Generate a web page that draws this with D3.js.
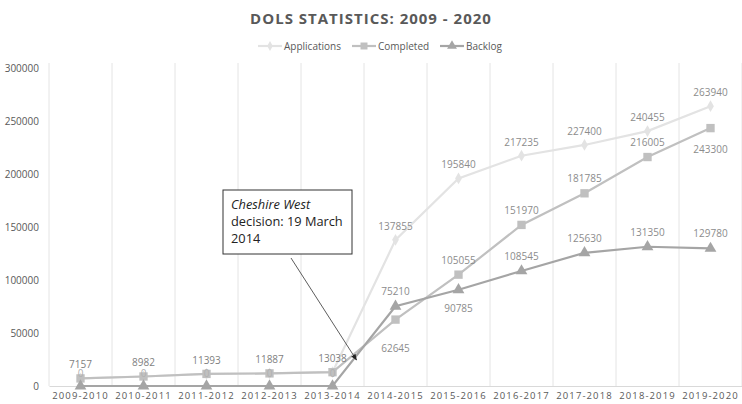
<!DOCTYPE html>
<html>
<head>
<meta charset="utf-8">
<script src="https://cdn.jsdelivr.net/npm/d3@7"></script>
<style>
  body { margin: 0; background: #fff; }
  text { font-family: "Open Sans", "Noto Sans", sans-serif; }
</style>
</head>
<body>
<div id="chart"></div>
<script>
const years = ["2009-2010", "2010-2011", "2011-2012", "2012-2013", "2013-2014", "2014-2015",
  "2015-2016", "2016-2017", "2017-2018", "2018-2019", "2019-2020"];
const applications = [7157, 8982, 11393, 11887, 13038, 137855, 195840, 217235, 227400, 240455, 263940];
const completed = [7157, 8982, 11393, 11887, 13038, 62645, 105055, 151970, 181785, 216005, 243300];
const backlog = [0, 0, 0, 0, 0, 75210, 90785, 108545, 125630, 131350, 129780];
const yTicks = [0, 50000, 100000, 150000, 200000, 250000, 300000];

// label placement: above (-1) / below (+1), null = no label
const compLabelPos = [null, null, null, null, null, 1, -1, -1, -1, -1, 1];
const backLabelPos = [-1, -1, -1, -1, -1, -1, 1, -1, -1, -1, -1];

const W = 742, H = 404;
const margin = { top: 68, right: 0, bottom: 18, left: 49 };

const svg = d3.select("#chart").append("svg")
  .attr("width", W).attr("height", H);

const x = d3.scaleBand().domain(years).range([margin.left, 742]);
const y = d3.scaleLinear().domain([0, 300000]).range([H - margin.bottom, margin.top]);
const cx = d => x(d) + x.bandwidth() / 2;

// vertical gridlines at band edges
svg.append("g").selectAll("line")
  .data(years.concat(["end"]))
  .join("line")
  .attr("x1", (d, i) => margin.left + i * x.step())
  .attr("x2", (d, i) => margin.left + i * x.step())
  .attr("y1", y(300000) - 5).attr("y2", y(0))
  .attr("stroke", "#e4e4e4").attr("stroke-width", 1);

// x axis
const xAxis = svg.append("g")
  .attr("transform", `translate(0,${y(0)})`)
  .call(d3.axisBottom(x).tickSize(0).tickPadding(6));
xAxis.select(".domain").attr("stroke", "#d9d9d9");
xAxis.selectAll("text")
  .attr("fill", "#595959").attr("font-size", 9.5).style("letter-spacing", "1.1px");

// y axis
const yAxis = svg.append("g")
  .attr("transform", `translate(${margin.left},0)`)
  .call(d3.axisLeft(y).tickValues(yTicks).tickSize(0).tickPadding(10).tickFormat(d3.format("d")));
yAxis.select(".domain").remove();
yAxis.selectAll("text").attr("fill", "#595959").attr("font-size", 10);

// title
svg.append("text")
  .attr("x", 371).attr("y", 24).attr("text-anchor", "middle")
  .attr("font-size", 15).attr("font-weight", "bold")
  .style("letter-spacing", "1px")
  .attr("fill", "#595959")
  .text("DOLS STATISTICS: 2009 - 2020");

const series = [
  { name: "Applications", values: applications, color: "#e3e3e3", symbol: d3.symbolDiamond, size: 40, width: 2.2 },
  { name: "Completed", values: completed, color: "#c0c0c0", symbol: d3.symbolSquare, size: 70, width: 2.2 },
  { name: "Backlog", values: backlog, color: "#a5a5a5", symbol: d3.symbolTriangle, size: 60, width: 2.2 }
];

const line = d3.line().x((d, i) => cx(years[i])).y(d => y(d));

series.forEach(s => {
  svg.append("path")
    .datum(s.values)
    .attr("fill", "none")
    .attr("stroke", s.color)
    .attr("stroke-width", s.width)
    .attr("d", line);
});

// markers, backlog drawn last so it sits on top
series.forEach(s => {
  svg.append("g").selectAll("path")
    .data(s.values)
    .join("path")
    .attr("transform", (d, i) => `translate(${cx(years[i])},${y(d)})`)
    .attr("d", d3.symbol().type(s.symbol).size(s.size))
    .attr("fill", s.color);
});

// data labels
const labelColor = "#8c8c8c";
svg.append("g").selectAll("text")
  .data(applications)
  .join("text")
  .attr("x", (d, i) => cx(years[i]))
  .attr("y", d => y(d) - 10)
  .attr("text-anchor", "middle").attr("font-size", 10)
  .attr("fill", (d, i) => i < 5 ? "#7f7f7f" : labelColor)
  .text(d => d);

svg.append("g").selectAll("text")
  .data(completed.map((v, i) => ({ v, i })).filter(d => compLabelPos[d.i] !== null))
  .join("text")
  .attr("x", d => cx(years[d.i]))
  .attr("y", d => compLabelPos[d.i] < 0 ? y(d.v) - 11 : y(d.v) + (d.i === 5 ? 32 : 25))
  .attr("text-anchor", "middle").attr("font-size", 10)
  .attr("fill", labelColor)
  .text(d => d.v);

svg.append("g").selectAll("text")
  .data(backlog.map((v, i) => ({ v, i })))
  .join("text")
  .attr("x", d => cx(years[d.i]))
  .attr("y", d => backLabelPos[d.i] < 0 ? y(d.v) - (d.i < 5 ? 9 : 11) : y(d.v) + 22)
  .attr("text-anchor", "middle").attr("font-size", 10)
  .attr("fill", d => d.i < 5 ? "#b0b0b0" : labelColor)
  .text(d => d.v);

// legend
const legendItems = [
  { s: series[0], x: 258 },
  { s: series[1], x: 352 },
  { s: series[2], x: 440 }
];
const legend = svg.append("g");
legendItems.forEach(it => {
  const g = legend.append("g").attr("transform", `translate(${it.x},46)`);
  g.append("line").attr("x1", 0).attr("x2", 24).attr("y1", 0).attr("y2", 0)
    .attr("stroke", it.s.color).attr("stroke-width", 2.2);
  g.append("path").attr("transform", "translate(12,0)")
    .attr("d", d3.symbol().type(it.s.symbol).size(it.s.size * 0.7))
    .attr("fill", it.s.color);
  g.append("text").attr("x", 26).attr("y", 3.5)
    .attr("font-size", 10).attr("fill", "#595959")
    .text(it.s.name);
});

// annotation
const note = svg.append("g");
svg.append("defs").append("marker")
  .attr("id", "arrow").attr("viewBox", "0 0 10 10")
  .attr("refX", 9).attr("refY", 5)
  .attr("markerWidth", 8).attr("markerHeight", 8)
  .attr("orient", "auto")
  .append("path").attr("d", "M0,1 L10,5 L0,9 Z").attr("fill", "#222");

note.append("line")
  .attr("x1", 291).attr("y1", 258)
  .attr("x2", cx("2013-2014") + 24).attr("y2", y(24500))
  .attr("stroke", "#333").attr("stroke-width", 0.8)
  .attr("marker-end", "url(#arrow)");

note.append("rect")
  .attr("x", 223).attr("y", 190).attr("width", 129).attr("height", 64)
  .attr("fill", "#fff").attr("stroke", "#333").attr("stroke-width", 1);

const noteText = note.append("text").attr("font-size", 12.8).attr("fill", "#222");
noteText.append("tspan").attr("x", 231).attr("y", 209)
  .attr("font-style", "italic").text("Cheshire West");
noteText.append("tspan").attr("x", 231).attr("y", 226).text("decision: 19 March");
noteText.append("tspan").attr("x", 231).attr("y", 243).text("2014");
</script>
</body>
</html>
